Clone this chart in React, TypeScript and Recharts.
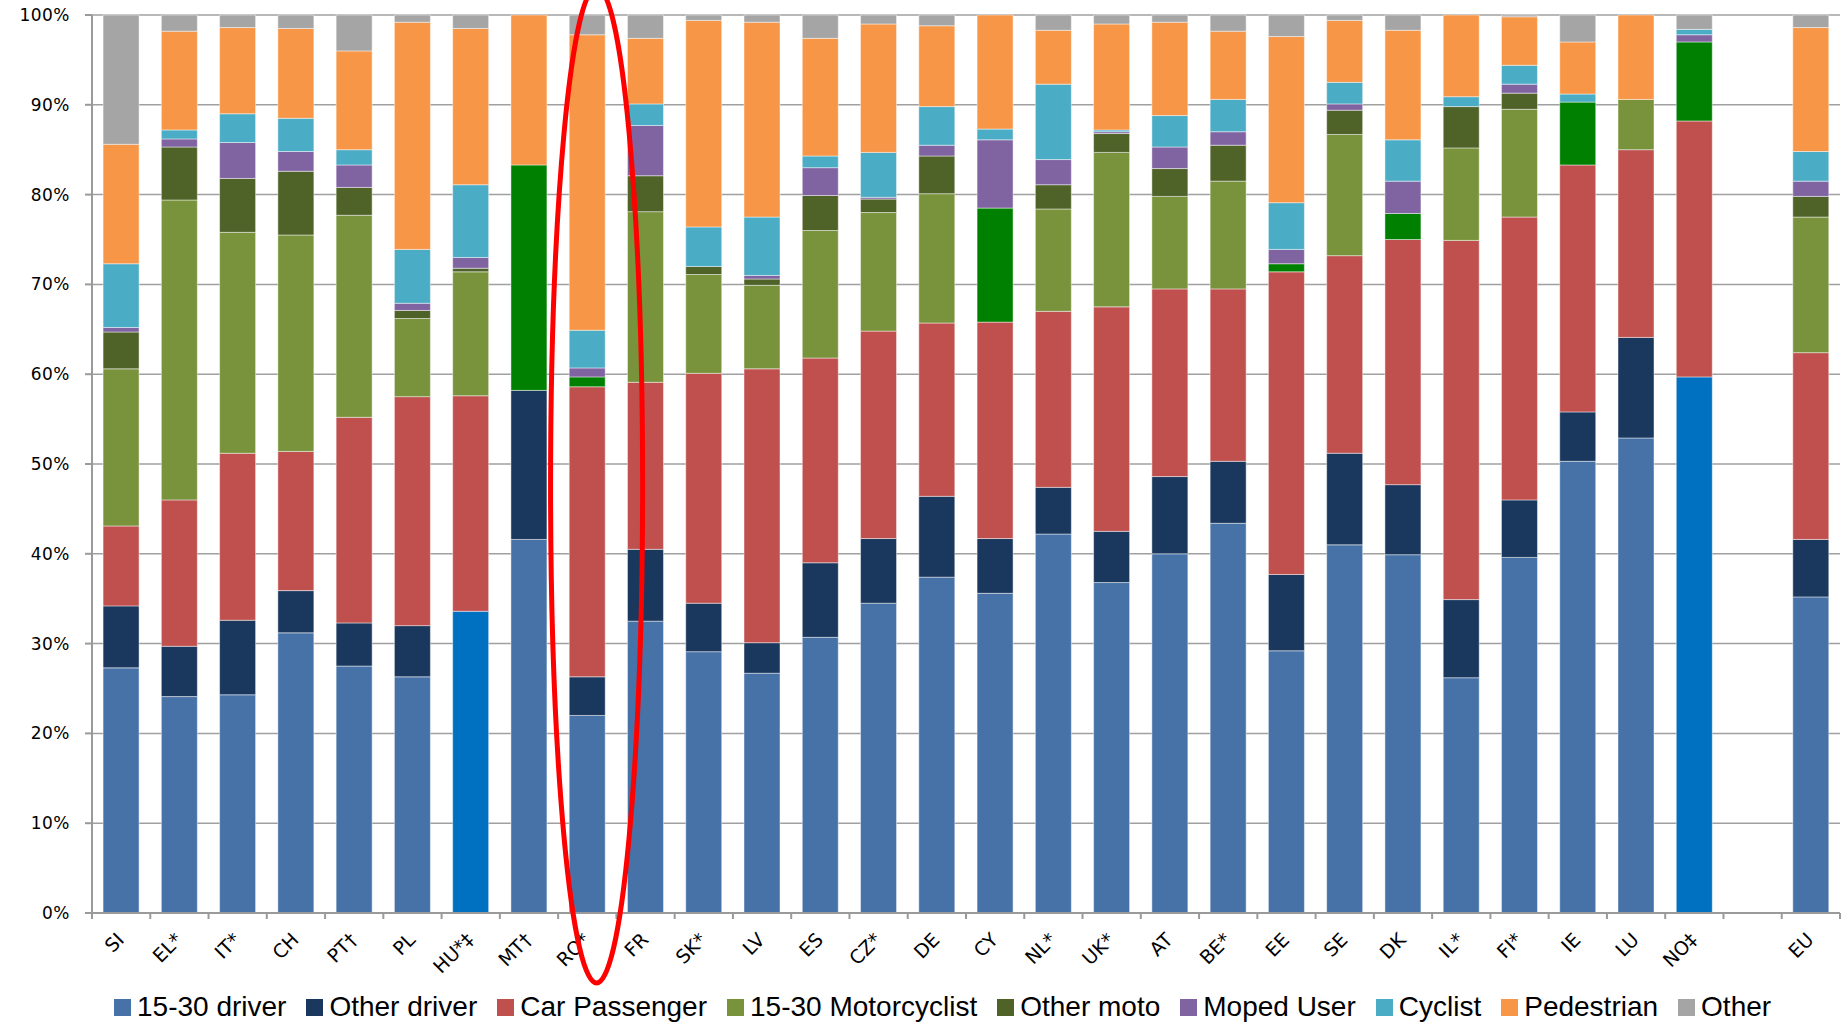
import React from 'react';
import {
  BarChart,
  Bar,
  XAxis,
  YAxis,
  CartesianGrid,
  Cell,
  ReferenceArea,
} from 'recharts';

// categories (empty slot keeps the gap before EU)
const countries = [
  'SI', 'EL*', 'IT*', 'CH', 'PT†', 'PL', 'HU*‡', 'MT†', 'RO*', 'FR',
  'SK*', 'LV', 'ES', 'CZ*', 'DE', 'CY', 'NL*', 'UK*', 'AT', 'BE*',
  'EE', 'SE', 'DK', 'IL*', 'FI*', 'IE', 'LU', 'NO‡', '', 'EU',
];

// shares (%) per road user group
const driver1530 = [27.3, 24.1, 24.3, 31.2, 27.5, 26.3, 33.6, 41.6, 22.0, 32.5, 29.1, 26.7, 30.7, 34.5, 37.4, 35.6, 42.2, 36.8, 40.0, 43.4, 29.2, 41.0, 39.9, 26.2, 39.6, 50.3, 52.9, 59.7, 0, 35.2];
const otherDriver = [6.9, 5.6, 8.3, 4.7, 4.8, 5.7, 0, 16.6, 4.3, 8.0, 5.4, 3.4, 8.3, 7.2, 9.0, 6.1, 5.2, 5.7, 8.6, 6.9, 8.5, 10.2, 7.8, 8.7, 6.4, 5.5, 11.2, 0, 0, 6.4];
const carPassenger = [8.9, 16.3, 18.6, 15.5, 22.9, 25.5, 24.0, 0, 32.3, 18.6, 25.6, 30.5, 22.8, 23.1, 19.3, 24.1, 19.6, 25.0, 20.9, 19.2, 33.7, 22.0, 27.3, 40.0, 31.5, 27.5, 20.9, 28.5, 0, 20.8];
const moto1530 = [17.5, 33.4, 24.6, 24.1, 22.5, 8.7, 13.8, 25.1, 1.1, 19.0, 11.0, 9.3, 14.2, 13.2, 14.4, 12.7, 11.4, 17.2, 10.3, 12.0, 0.9, 13.5, 2.9, 10.3, 12.0, 7.0, 5.6, 8.8, 0, 15.1];
const otherMoto = [4.1, 5.9, 6.0, 7.1, 3.1, 0.9, 0.4, 0, 0, 4.0, 0.9, 0.7, 3.9, 1.5, 4.2, 0, 2.7, 2.1, 3.1, 4.0, 0, 2.7, 0, 4.6, 1.8, 0, 0, 0, 0, 2.3];
const mopedUser = [0.5, 0.9, 4.0, 2.2, 2.5, 0.8, 1.2, 0, 1.0, 5.6, 0, 0.4, 3.1, 0.2, 1.2, 7.6, 2.8, 0.2, 2.4, 1.5, 1.6, 0.7, 3.6, 0, 1.0, 0, 0, 0.8, 0, 1.7];
const cyclist = [7.1, 1.0, 3.2, 3.7, 1.7, 6.0, 8.1, 0, 4.2, 2.4, 4.4, 6.5, 1.3, 5.0, 4.3, 1.2, 8.4, 0.2, 3.5, 3.6, 5.2, 2.4, 4.6, 1.1, 2.1, 0.9, 0, 0.6, 0, 3.3];
const pedestrian = [13.3, 11.0, 9.6, 10.0, 11.0, 25.3, 17.4, 16.7, 32.9, 7.3, 23.0, 21.7, 13.1, 14.3, 9.0, 12.7, 6.0, 11.8, 10.4, 7.6, 18.5, 6.9, 12.2, 9.1, 5.4, 5.8, 9.4, 0, 0, 13.8];
const other = [14.4, 1.8, 1.4, 1.5, 4.0, 0.8, 1.5, 0, 2.2, 2.6, 0.6, 0.8, 2.6, 1.0, 1.2, 0, 1.7, 1.0, 0.8, 1.8, 2.4, 0.6, 1.7, 0, 0.2, 3.0, 0, 1.6, 0, 1.4];

// countries drawn in the brighter colours (small samples)
const brightDriverCountries = ['HU*‡', 'NO‡'];
const brightMotoCountries = ['MT†', 'RO*', 'CY', 'EE', 'DK', 'IE', 'NO‡'];
const circledCountry = 'RO*';

const yTicks = [0, 0.1, 0.2, 0.3, 0.4, 0.5, 0.6, 0.7, 0.8, 0.9, 1];

const series = [
  { key: 'driver1530', name: '15-30 driver', values: driver1530, color: '#4672A8' },
  { key: 'otherDriver', name: 'Other driver', values: otherDriver, color: '#1A375D' },
  { key: 'carPassenger', name: 'Car Passenger', values: carPassenger, color: '#C0504E' },
  { key: 'moto1530', name: '15-30 Motorcyclist', values: moto1530, color: '#79933C' },
  { key: 'otherMoto', name: 'Other moto', values: otherMoto, color: '#4F6228' },
  { key: 'mopedUser', name: 'Moped User', values: mopedUser, color: '#8064A2' },
  { key: 'cyclist', name: 'Cyclist', values: cyclist, color: '#4BACC6' },
  { key: 'pedestrian', name: 'Pedestrian', values: pedestrian, color: '#F79646' },
  { key: 'other', name: 'Other', values: other, color: '#A5A5A5' },
];

const chartData = countries.map((name, i) => {
  const row: Record<string, any> = { name };
  series.forEach(s => { row[s.key] = s.values[i]; });
  return row;
});

const cellColor = (key: string, country: string, base: string) => {
  if (key === 'driver1530' && brightDriverCountries.includes(country)) return '#0070C0';
  if (key === 'moto1530' && brightMotoCountries.includes(country)) return '#008000';
  return base;
};

const W = 1843;
const H = 1024;
const MARGIN = { top: 15, right: 3, left: 0, bottom: 31 };

const CountryTick = (props: any) => {
  const { x, y, payload, index, width, visibleTicksCount } = props;
  const band = width / visibleTicksCount;
  const isLast = index === visibleTicksCount - 1;
  return (
    <g>
      <line x1={x - band / 2} x2={x - band / 2} y1={y} y2={y + 6} stroke="#9a9a9a" strokeWidth={2} />
      {isLast && <line x1={x + band / 2} x2={x + band / 2} y1={y} y2={y + 6} stroke="#9a9a9a" strokeWidth={2} />}
      <text
        transform={`translate(${x + 4},${y + 28}) rotate(-45)`}
        textAnchor="end"
        fontFamily="'DejaVu Sans', Verdana, sans-serif"
        fontSize={19}
        fill="#000"
      >
        {payload.value}
      </text>
    </g>
  );
};

// red ring drawn around the band of the circled country
const Ellipse = (props: any) => {
  const { x, y, width, height } = props;
  return (
    <ellipse
      cx={x + width / 2 + width * 0.16}
      cy={y + height / 2}
      rx={width * 0.79}
      ry={height / 2}
      fill="none"
      stroke="#FF0000"
      strokeWidth={5}
    />
  );
};

const App: React.FC = () => {
  return (
    <div style={{ position: 'absolute', left: 0, top: 0, width: W, height: H, background: '#fff' }}>
      <BarChart
        width={W}
        height={H}
        data={chartData}
        stackOffset="expand"
        barCategoryGap="19%"
        margin={MARGIN}
      >
        <CartesianGrid vertical={false} stroke="#a0a0a0" strokeWidth={1.5} />
        <XAxis
          dataKey="name"
          height={80}
          interval={0}
          tickLine={false}
          tickSize={0}
          tickMargin={0}
          axisLine={{ stroke: '#9a9a9a', strokeWidth: 2 }}
          tick={<CountryTick />}
        />
        <YAxis
          width={92}
          domain={[0, 1]}
          ticks={yTicks}
          tickFormatter={(v: number) => `${Math.round(v * 100)}%`}
          tickSize={7}
          tickMargin={15}
          axisLine={{ stroke: '#9a9a9a', strokeWidth: 2 }}
          tickLine={{ stroke: '#9a9a9a', strokeWidth: 2 }}
          tick={{ fill: '#000', fontSize: 17, fontFamily: "'DejaVu Sans', Verdana, sans-serif", letterSpacing: 0.5 }}
        />
        {series.map(s => (
          <Bar
            key={s.key}
            dataKey={s.key}
            name={s.name}
            stackId="a"
            fill={s.color}
            stroke="rgba(255,255,255,0.45)"
            strokeWidth={1}
            isAnimationActive={false}
          >
            {chartData.map((row, i) => (
              <Cell key={`${s.key}-${i}`} fill={cellColor(s.key, row.name, s.color)} />
            ))}
          </Bar>
        ))}
      </BarChart>

      {/* same layout again on top, only to draw the red ring above the bars */}
      <div style={{ position: 'absolute', left: 0, top: 0, pointerEvents: 'none' }}>
        <BarChart width={W} height={H} data={chartData} margin={MARGIN}>
          <XAxis dataKey="name" height={80} tick={false} axisLine={false} tickLine={false} />
          <YAxis width={92} domain={[0, 1]} ticks={yTicks} tick={false} axisLine={false} tickLine={false} />
          <Bar dataKey={() => 0} fill="transparent" isAnimationActive={false} />
          <ReferenceArea
            x1={circledCountry}
            x2={circledCountry}
            y1={-0.078}
            y2={1.031}
            ifOverflow="visible"
            shape={<Ellipse />}
          />
        </BarChart>
      </div>

      {/* legend, drawn as plain html under the axis labels */}
      <div
        style={{
          position: 'absolute',
          left: 114,
          top: 991,
          display: 'flex',
          alignItems: 'center',
          fontFamily: "'Liberation Sans', Arial, sans-serif",
          fontSize: 28,
          lineHeight: '32px',
          color: '#000',
          whiteSpace: 'nowrap',
        }}
      >
        {series.map(s => (
          <div key={s.key} style={{ display: 'flex', alignItems: 'center', marginRight: 20 }}>
            <span style={{ display: 'inline-block', width: 17, height: 17, background: s.color, marginRight: 6 }} />
            <span>{s.name}</span>
          </div>
        ))}
      </div>
    </div>
  );
};

export default App;
